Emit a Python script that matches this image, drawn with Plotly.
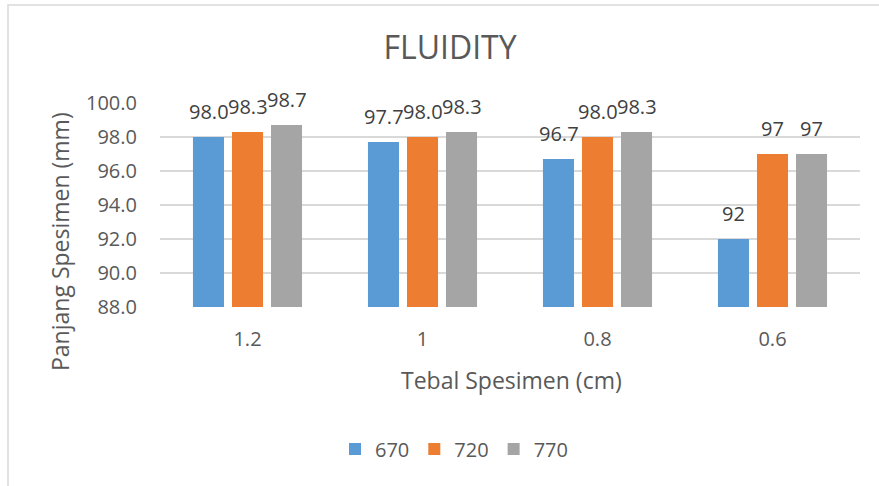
import plotly.graph_objects as go

categories = ["1.2", "1", "0.8", "0.6"]
series_names = ["670", "720", "770"]
s670 = [98.0, 97.7, 96.7, 92]
s720 = [98.3, 98.0, 98.0, 97]
s770 = [98.7, 98.3, 98.3, 97]
labels670 = ["98.0", "97.7", "96.7", "92"]
labels720 = ["98.3", "98.0", "98.0", "97"]
labels770 = ["98.7", "98.3", "98.3", "97"]
colors = ["#5B9BD5", "#ED7D31", "#A5A5A5"]

W, H = 879, 486
ML, MR, MT, MB = 160, 19, 103, 179
pw = W - ML - MR
ph = H - MT - MB
FONT = "Open Sans"
TXT = "#595959"
LBL = "#404040"


def px_x(p):
    return (p - ML) / pw


def px_y(p):
    return (MT + ph - p) / ph


fig = go.Figure()
annotations = []
slot = 39
for i, (name, vals, labs, col) in enumerate(zip(series_names, [s670, s720, s770],
                                                [labels670, labels720, labels770], colors)):
    fig.add_trace(go.Bar(x=categories, y=vals, name=name, marker_color=col,
                         marker_line_width=0))
    for k, (v, t) in enumerate(zip(vals, labs)):
        annotations.append(dict(x=k, y=v, xref="x", yref="y", text=t, showarrow=False,
                                xanchor="center", yanchor="bottom",
                                xshift=(i - 1) * slot, yshift=10,
                                font=dict(family=FONT, size=20, color=LBL)))

annotations.append(dict(x=px_x(511), y=px_y(380), xref="paper", yref="paper",
                        text="Tebal Spesimen (cm)", showarrow=False,
                        xanchor="center", yanchor="middle",
                        font=dict(family=FONT, size=23, color=TXT)))
annotations.append(dict(x=px_x(60), y=px_y(242), xref="paper", yref="paper",
                        text="Panjang Spesimen (mm)", showarrow=False, textangle=-90,
                        xanchor="center", yanchor="middle",
                        font=dict(family=FONT, size=23, color=TXT)))

fig.add_shape(type="rect", xref="paper", yref="paper",
              x0=px_x(8), x1=px_x(W + 20), y0=px_y(H + 20), y1=px_y(5),
              line=dict(color="#D9D9D9", width=1.5), layer="below")

fig.update_layout(
    width=W, height=H,
    margin=dict(l=ML, r=MR, t=MT, b=MB, autoexpand=False),
    paper_bgcolor="white", plot_bgcolor="white",
    barmode="group", bargap=0.331, bargroupgap=0.205,
    title=dict(text="FLUIDITY", x=450 / W, xref="container", xanchor="center",
               y=1 - 48 / H, yref="container", yanchor="middle",
               font=dict(family=FONT, size=32, color=TXT)),
    font=dict(family=FONT, color=TXT),
    annotations=annotations,
    xaxis=dict(type="category", tickfont=dict(size=20, color=TXT), showgrid=False,
               automargin=False, showline=False, ticks="", ticklabelstandoff=18),
    yaxis=dict(range=[88, 100], dtick=2, tick0=88, tickformat=".1f", automargin=False,
               tickfont=dict(size=20, color=TXT), showgrid=True,
               gridcolor="#D9D9D9", gridwidth=1.5, zeroline=False,
               showline=False, ticks="", ticklabelstandoff=22),
    legend=dict(orientation="h", x=px_x(454), xanchor="center",
                y=px_y(449), yanchor="middle",
                font=dict(size=20, color=TXT), itemwidth=30, tracegroupgap=0),
)
fig.write_html("out.html", config={"displayModeBar": False},
               post_script="document.body.style.margin='0';document.body.style.overflow='hidden';")
